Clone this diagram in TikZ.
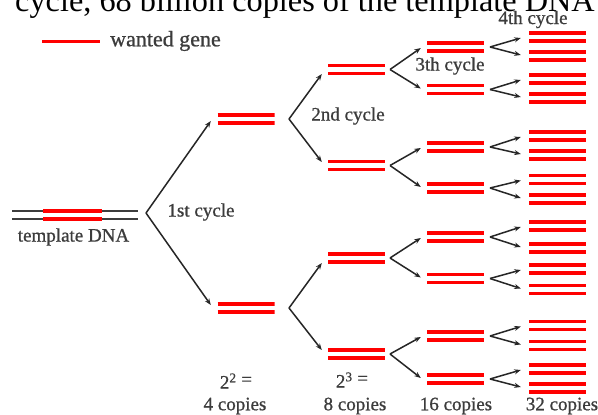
\documentclass[tikz,border=0pt]{standalone}
\usepackage{fontspec}
\setmainfont{Liberation Serif}
\newfontfamily\lblfont[FakeBold=0.8]{Liberation Serif}
\usetikzlibrary{arrows.meta}
\definecolor{gene}{RGB}{255,0,0}
\definecolor{txt}{RGB}{60,60,60}
\definecolor{strand}{RGB}{60,60,60}
\tikzset{
  pairbar/.style={minimum width=57pt, minimum height=14pt, inner sep=0pt,
    path picture={
      \draw[gene,line width=3.4pt] ([yshift=4pt]path picture bounding box.west) -- ([yshift=4pt]path picture bounding box.east);
      \draw[gene,line width=3.4pt] ([yshift=-4pt]path picture bounding box.west) -- ([yshift=-4pt]path picture bounding box.east);}},
  tmplbar/.style={minimum width=126pt, minimum height=14pt, inner sep=0pt,
    path picture={
      \draw[strand,line width=2.4pt] ([yshift=4pt]path picture bounding box.west) -- ([yshift=4pt]path picture bounding box.east);
      \draw[strand,line width=2.4pt] ([yshift=-4pt]path picture bounding box.west) -- ([yshift=-4pt]path picture bounding box.east);
      \draw[gene,line width=3.4pt] ([xshift=31pt,yshift=4pt]path picture bounding box.west) -- ([xshift=90pt,yshift=4pt]path picture bounding box.west);
      \draw[gene,line width=3.4pt] ([xshift=31pt,yshift=-4pt]path picture bounding box.west) -- ([xshift=90pt,yshift=-4pt]path picture bounding box.west);}},
  arr/.style={draw=black!85, line width=1.5pt, -{Stealth[length=6.5pt,width=5pt]}},
  lbl/.style={text=txt, inner sep=0pt, font=\lblfont\fontsize{19}{19}\selectfont},
  legendline/.style={gene, line width=3.4pt},
}
\begin{document}
\begin{tikzpicture}[x=1pt,y=-1pt]
\useasboundingbox (0,0) rectangle (598,415);
\clip (0,0) rectangle (598,415);
\fill[white] (0,0) rectangle (598,415);
% clipped heading
\node[anchor=base west, inner sep=0pt, font=\fontsize{32.3}{32}\selectfont] (head) at (15,11) {cycle, 68 billion copies of the template DNA};
% legend
\coordinate (lg1) at (42,41.5);
\coordinate (lg2) at (100,41.5);
\draw[legendline] (lg1) -- (lg2);
\node[lbl, font=\lblfont\fontsize{22}{22}\selectfont, anchor=west] (lgt) at (110,41) {wanted gene};
% template
\node[tmplbar] (tmpl) at (75,215) {};
\node[lbl] (tmpll) at (73.5,237) {template DNA};
% pairs
\node[pairbar] (a1) at (246,119) {};
\node[pairbar] (a2) at (246,308) {};
\foreach \i/\y in {1/69.5,2/165.5,3/258,4/354}
  \node[pairbar] (b\i) at (356.5,\y) {};
\foreach \i/\y in {1/47,2/89.5,3/147,4/188,5/237,6/278.5,7/336,8/379}
  \node[pairbar] (c\i) at (455.5,\y) {};
\foreach \i/\y in {1/37,2/56,3/79,4/98,5/136,6/155,7/179.5,8/199,9/226,10/248,11/269,12/289.5,13/325.5,14/345.5,15/369,16/388}
  \node[pairbar] (d\i) at (557.5,\y) {};
% branch points
\coordinate (t0) at (146,213);
\coordinate (va1) at (289,119);
\coordinate (va2) at (289,308);
\foreach \i/\y in {1/69.5,2/165.5,3/258,4/354}
  \coordinate (vb\i) at (390,\y);
\foreach \i/\y in {1/47,2/89.5,3/147,4/188,5/237,6/278.5,7/336,8/379}
  \coordinate (vc\i) at (490,\y);
% arrows
\draw[arr] (t0) -- ([xshift=-6.5pt,yshift=-2pt]a1.west);
\draw[arr] (t0) -- ([xshift=-6.5pt,yshift=3pt]a2.west);
\draw[arr] (va1) -- ([xshift=-6pt,yshift=-4.5pt]b1.west);
\draw[arr] (va1) -- ([xshift=-6pt,yshift=3.5pt]b2.west);
\draw[arr] (va2) -- ([xshift=-6pt,yshift=-5pt]b3.west);
\draw[arr] (va2) -- ([xshift=-6pt,yshift=4pt]b4.west);
\foreach \v/\p/\q in {1/1/2,2/3/4,3/5/6,4/7/8}{
  \draw[arr] (vb\v) -- ([xshift=-6pt,yshift=-1pt]c\p.west);
  \draw[arr] (vb\v) -- ([xshift=-6pt,yshift=1pt]c\q.west);
}
\foreach \v/\p/\q in {1/1/2,2/3/4,3/5/6,4/7/8,5/9/10,6/11/12,7/13/14,8/15/16}{
  \draw[arr] (vc\v) -- ([xshift=-8pt,yshift=-1pt]d\p.west);
  \draw[arr] (vc\v) -- ([xshift=-8pt,yshift=1pt]d\q.west);
}
% labels
\node[lbl] (cy1) at (201,212) {1st cycle};
\node[lbl] (cy2) at (348,116) {2nd cycle};
\node[lbl] (cy3) at (450,66) {3th cycle};
\node[lbl] (cy4) at (533,19.5) {4th cycle};
\node[lbl] (e2) at (236,381) {2\textsuperscript{2} \raisebox{3pt}{=}};
\node[lbl] (n4) at (235,406) {4 copies};
\node[lbl] (e3) at (352,380) {2\textsuperscript{3} \raisebox{3pt}{=}};
\node[lbl] (n8) at (355,406) {8 copies};
\node[lbl] (n16) at (456,406) {16 copies};
\node[lbl] (n32) at (562,406) {32 copies};
\end{tikzpicture}
\end{document}
